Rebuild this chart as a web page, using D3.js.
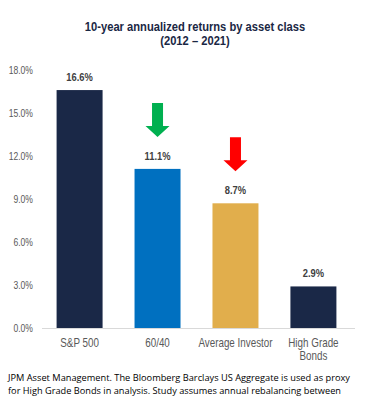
<!DOCTYPE html>
<html>
<head>
<meta charset="utf-8">
<script src="https://cdn.jsdelivr.net/npm/d3@7"></script>
<style>
  body { margin: 0; background: #fff; }
  svg { display: block; }
</style>
</head>
<body>
<div id="chart"></div>
<script>
// data
const categories = ['S&P 500', '60/40', 'Average Investor', 'High Grade|Bonds'];
const returns = [16.6, 11.1, 8.7, 2.9];
const barColors = ['#1a2847', '#0070c0', '#e1ae4c', '#1a2847'];
const yTicks = [0, 3, 6, 9, 12, 15, 18];
const arrowCats = ['60/40', 'Average Investor'];
const arrowColors = ['#00b050', '#ff0000'];
const titleLines = ['10-year annualized returns by asset class', '(2012 \u2013 2021)'];
const footLines = [
    'JPM Asset Management. The Bloomberg Barclays US Aggregate is used as proxy',
    'for High Grade Bonds in analysis. Study assumes annual rebalancing between'
];

const width = 368;
const height = 404;
// no Arial Narrow here, so squeeze Liberation Sans horizontally
const font = '"Liberation Sans", Arial, sans-serif';
const squeeze = 0.82;

const svg = d3.select("#chart")
    .append("svg")
    .attr("width", width)
    .attr("height", height);

const x = d3.scaleBand()
    .domain(categories)
    .range([41, 352])
    .paddingInner(0.41)
    .paddingOuter(0.2);

const y = d3.scaleLinear()
    .domain([0, 18])
    .range([328, 70]);

// title
svg.selectAll(".title")
    .data(titleLines)
    .enter().append("text")
    .attr("class", "title")
    .attr("transform", (d, i) => `translate(195,${31 + i * 14}) scale(0.86,1)`)
    .attr("text-anchor", "middle")
    .attr("fill", "#1a2744")
    .style("font-family", font)
    .style("font-weight", "bold")
    .style("font-size", "13px")
    .text(d => d);

// y axis labels (no line)
const yAxis = svg.append("g")
    .attr("transform", "translate(33,0)")
    .call(d3.axisLeft(y).tickValues(yTicks).tickSize(0).tickPadding(0)
        .tickFormat(d => d.toFixed(1) + '%'));
yAxis.select(".domain").remove();
yAxis.selectAll("text")
    .attr("x", 0)
    .attr("transform", `scale(${squeeze + 0.04},1)`)
    .attr("fill", "#595959")
    .style("font-family", font)
    .style("font-size", "10px");

// bars
svg.selectAll("rect.bar")
    .data(returns)
    .enter().append("rect")
    .attr("class", "bar")
    .attr("x", (d, i) => x(categories[i]))
    .attr("y", d => y(d))
    .attr("width", x.bandwidth())
    .attr("height", d => y(0) - y(d))
    .attr("fill", (d, i) => barColors[i]);

// value labels
svg.selectAll(".val")
    .data(returns)
    .enter().append("text")
    .attr("class", "val")
    .attr("transform", (d, i) => `translate(${x(categories[i]) + x.bandwidth() / 2},${y(d) - 9}) scale(0.85,1)`)
    .attr("text-anchor", "middle")
    .attr("fill", "#404040")
    .style("font-family", font)
    .style("font-weight", "bold")
    .style("font-size", "11px")
    .text(d => d.toFixed(1) + '%');

// x axis
const xAxis = svg.append("g")
    .attr("transform", `translate(0,${y(0)})`)
    .call(d3.axisBottom(x).tickSize(0).tickFormat(''));
xAxis.select(".domain")
    .attr("d", `M42,0.5H355`)
    .attr("stroke", "#d9d9d9");

const xl = svg.selectAll(".xlab")
    .data(categories)
    .enter().append("text")
    .attr("class", "xlab")
    .attr("transform", d => `translate(${x(d) + x.bandwidth() / 2},347) scale(${squeeze},1)`)
    .attr("text-anchor", "middle")
    .attr("fill", "#595959")
    .style("font-family", font)
    .style("font-size", "12px");
xl.selectAll("tspan")
    .data(d => d.split('|'))
    .enter().append("tspan")
    .attr("x", 0)
    .attr("dy", (d, i) => i ? 13.5 : 0)
    .text(d => d);

// arrows above bars
arrowCats.forEach((c, i) => {
    const cx = x(c) + x.bandwidth() / 2;
    const v = returns[categories.indexOf(c)];
    const tip = y(v) - 32;
    svg.append("path")
        .attr("d", `M${cx - 5.5},${tip - 34}H${cx + 5.5}V${tip - 11}H${cx + 12}L${cx},${tip}L${cx - 12},${tip - 11}H${cx - 5.5}Z`)
        .attr("fill", arrowColors[i]);
});

// footnote
const footWidths = [342, 333];
svg.selectAll(".foot")
    .data(footLines)
    .enter().append("text")
    .attr("class", "foot")
    .attr("x", 8)
    .attr("y", (d, i) => 381 + i * 13)
    .attr("textLength", (d, i) => footWidths[i])
    .attr("lengthAdjust", "spacingAndGlyphs")
    .attr("fill", "#000")
    .style("font-family", '"Open Sans", sans-serif')
    .style("font-size", "9.3px")
    .text(d => d);
</script>
</body>
</html>
